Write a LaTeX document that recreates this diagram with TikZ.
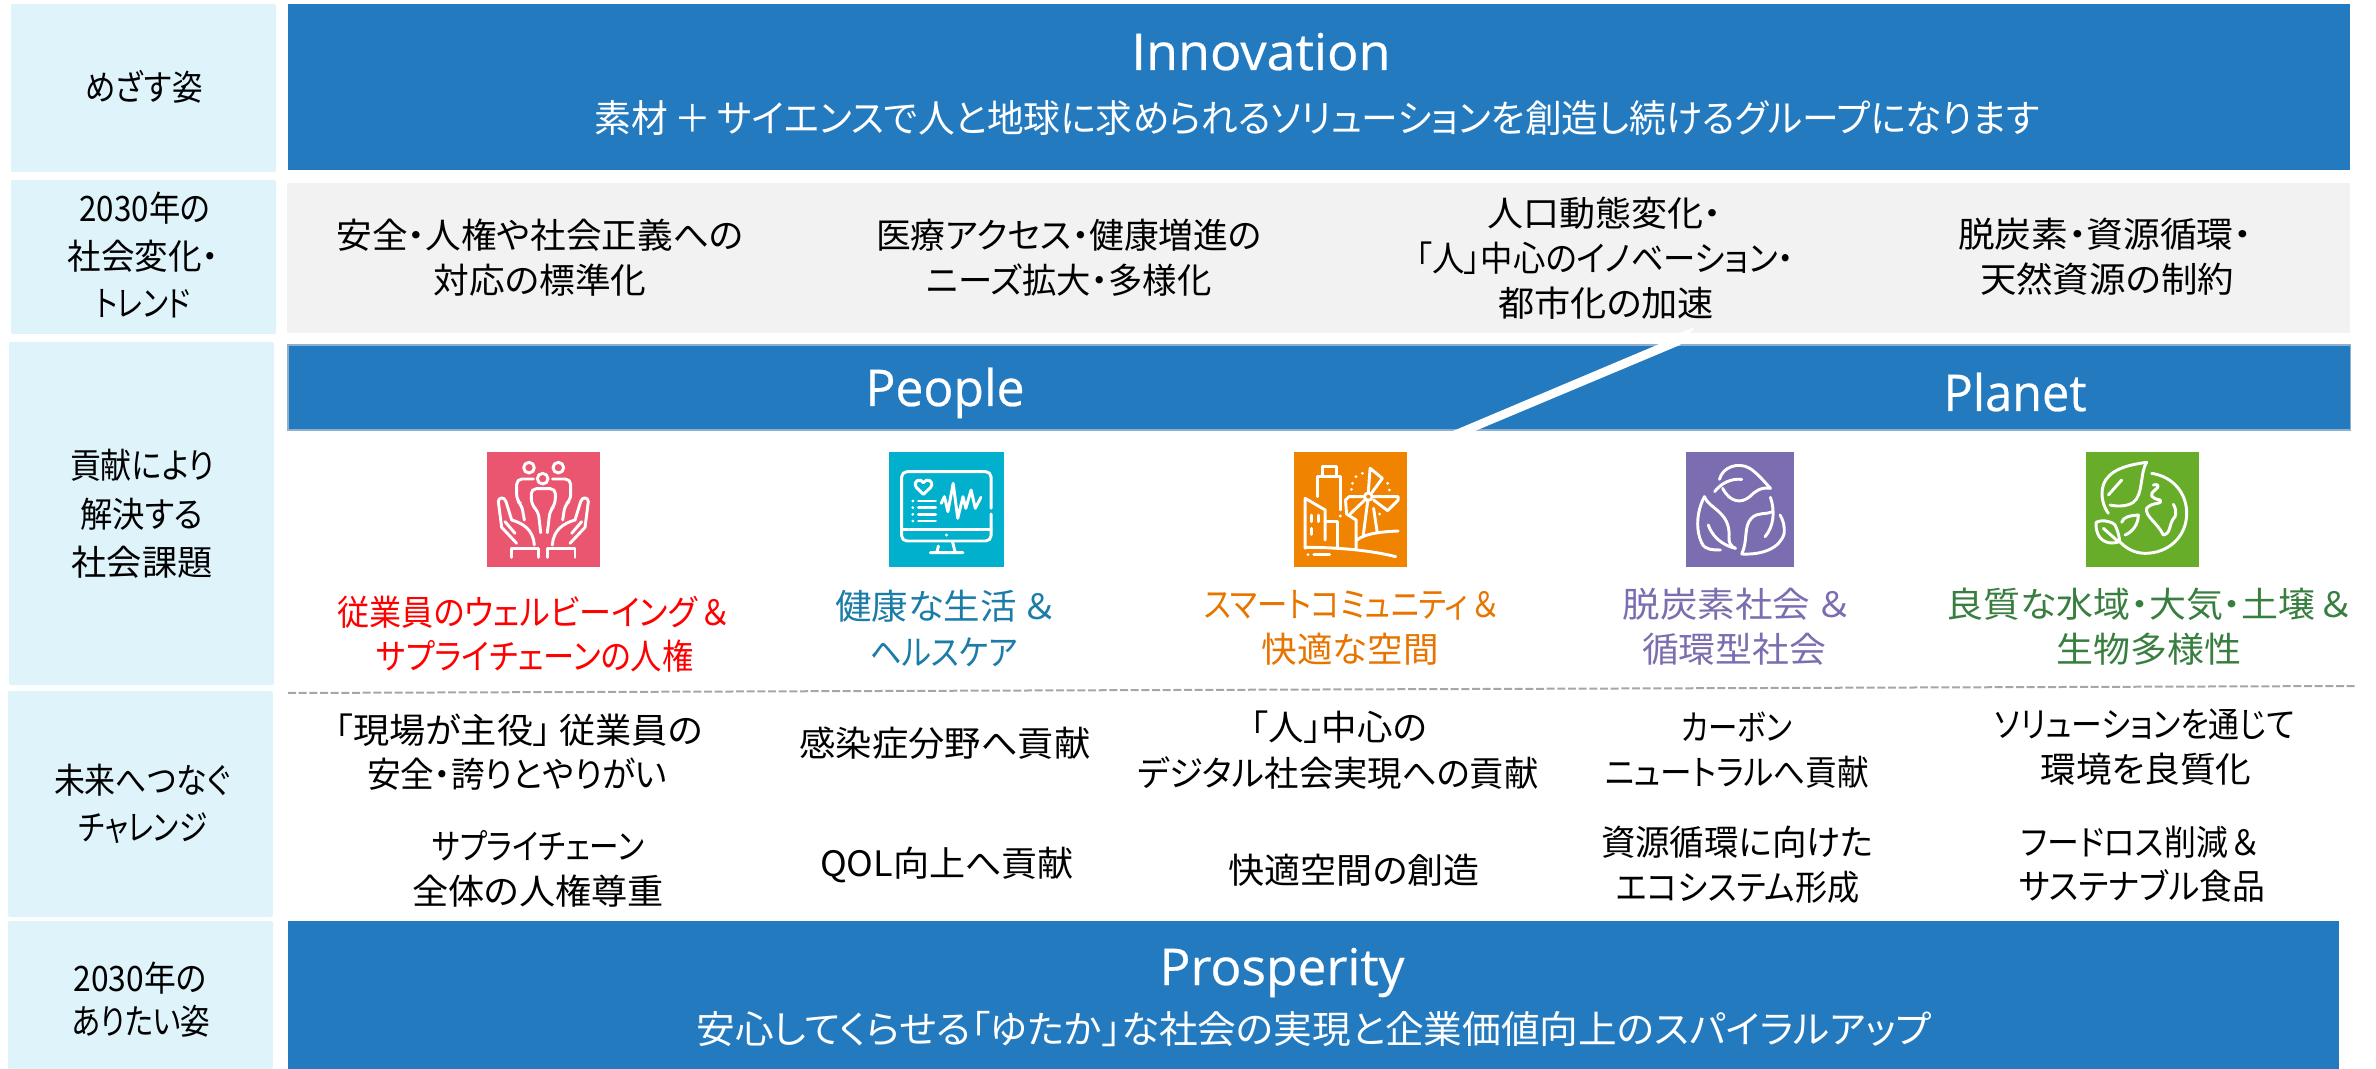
\documentclass[tikz,border=0pt]{standalone}
\usepackage{fontspec}
\usepackage{graphicx}
\setmainfont{Noto Sans CJK JP}[RawFeature={+palt}]
\newfontfamily\latinhead{Open Sans}[FakeBold=0.5]
\definecolor{bandblue}{RGB}{36,122,191}
\definecolor{sidepale}{RGB}{223,243,251}
\definecolor{trendgray}{RGB}{242,242,242}
\definecolor{iconred}{RGB}{234,86,112}
\definecolor{iconteal}{RGB}{0,176,204}
\definecolor{iconorange}{RGB}{240,131,0}
\definecolor{iconpurple}{RGB}{123,109,175}
\definecolor{icongreen}{RGB}{103,173,42}
\definecolor{txtteal}{RGB}{27,124,168}
\definecolor{txtorange}{RGB}{232,116,0}
\definecolor{txtpurple}{RGB}{124,109,176}
\definecolor{txtgreen}{RGB}{55,126,63}
\newsavebox\fitbox
\newcommand\fitw[2]{\sbox\fitbox{#2}\pgfmathsetmacro\fitr{#1*0.75/(\the\wd\fitbox)}\scalebox{\fitr}[1]{\usebox\fitbox}}
\newcommand\lbl[6][]{\node[txt,#1] (#2) at (#3,#4+13) {\fitw{#5}{#6}};}
\tikzset{
  txt/.style={inner sep=0pt,anchor=base,text=black,font=\fontsize{26.25}{30}\selectfont},
  whitetxt/.style={text=white},
  subtxt/.style={text=white,font=\fontsize{28.5}{32}\selectfont},
  headtxt/.style={text=white,font=\latinhead\fontsize{38}{42}\selectfont},
  side/.style={fill=sidepale,rounded corners=1.5pt},
  ln/.style={draw=white,line width=2.2pt,line cap=round,line join=round},
}
\begin{document}
\begin{tikzpicture}[x=0.75pt,y=-0.75pt]
\useasboundingbox (0,0) rectangle (2376,1069);
% side column
\fill[side] (11,4) rectangle (276,172);
\fill[side] (11,180) rectangle (276,334);
\fill[side] (9,342) rectangle (274,685);
\fill[side] (8,691) rectangle (273,917);
\fill[side] (8,921) rectangle (273,1069);
% bands
\fill[bandblue] (288,4) rectangle (2350,170);
\fill[trendgray] (287,183) rectangle (2350,333);
\fill[bandblue,draw=bandblue!70!gray!60!white,line width=0.8pt] (288,345) rectangle (2350,430);
\fill[bandblue] (288,921) rectangle (2339,1069);
% slash between People and Planet
\fill[white] (1453,431) -- (1475,431) -- (1680,345) -- (1695,327) -- (1680,333) -- (1657,345) -- cycle;
% dashed separator
\coordinate (dashL) at (288,693);
\coordinate (dashR) at (2356,686);
\draw[gray!70,line width=1.5pt,dash pattern=on 6pt off 2pt] (dashL) -- (dashR);

% headings
\node[txt,headtxt] (innov) at (1261,70) {\fitw{259}{Innovation}};
\lbl[subtxt]{innovsub}{1317}{120}{1445}{素材\kern5pt＋\kern5ptサイエンスで人と地球に求められるソリューションを創造し続けるグループになります}
\node[txt,headtxt] (people) at (945,406) {\fitw{159}{People}};
\node[txt,headtxt] (planet) at (2015,411) {\fitw{143}{Planet}};
\node[txt,headtxt] (prosp) at (1282,985) {\fitw{245}{Prosperity}};
\lbl[subtxt]{prospsub}{1314}{1030}{1235}{安心してくらせる「ゆたか」な社会の実現と企業価値向上のスパイラルアップ}

% side labels
\lbl{s1}{144}{88}{117}{めざす姿}
\lbl{s2a}{145}{209}{131}{2030年の}
\lbl{s2b}{143}{257}{151}{社会変化・}
\lbl{s2c}{143}{304}{95}{トレンド}
\lbl{s3a}{142}{466}{144}{貢献により}
\lbl{s3b}{142}{514}{123}{解決する}
\lbl{s3c}{142}{562}{141}{社会課題}
\lbl{s4a}{142}{780}{176}{未来へつなぐ}
\lbl{s4b}{143}{827}{128}{チャレンジ}
\lbl{s5a}{140}{978}{133}{2030年の}
\lbl{s5b}{141}{1021}{139}{ありたい姿}

% trends
\lbl{t1a}{540}{236}{407}{安全・人権や社会正義への}
\lbl{t1b}{540}{281}{213}{対応の標準化}
\lbl{t2a}{1069}{236}{386}{医療アクセス・健康増進の}
\lbl{t2b}{1069}{281}{285}{ニーズ拡大・多様化}
\lbl{t3a}{1604}{214}{234}{人口動態変化・}
\lbl{t3b}{1605}{259}{378}{「人」中心のイノベーション・}
\lbl{t3c}{1606}{304}{216}{都市化の加速}
\lbl{t4a}{2105}{235}{294}{脱炭素・資源循環・}
\lbl{t4b}{2107}{280}{254}{天然資源の制約}

% social issues
\lbl[text=red]{i1a}{533}{612}{391}{従業員のウェルビーイング\kern4pt＆}
\lbl[text=red]{i1b}{535}{656}{317}{サプライチェーンの人権}
\lbl[text=txtteal]{i2a}{945}{606}{220}{健康な生活 ＆}
\lbl[text=txtteal]{i2b}{944}{652}{148}{ヘルスケア}
\lbl[text=txtorange]{i3a}{1351}{604}{294}{スマートコミュニティ\kern4pt＆}
\lbl[text=txtorange]{i3b}{1350}{649}{177}{快適な空間}
\lbl[text=txtpurple]{i4a}{1736}{604}{227}{脱炭素社会 ＆}
\lbl[text=txtpurple]{i4b}{1734}{649}{184}{循環型社会}
\lbl[text=txtgreen]{i5a}{2149}{604}{405}{良質な水域・大気・土壌\kern4pt＆}
\lbl[text=txtgreen]{i5b}{2149}{649}{185}{生物多様性}

% challenges
\lbl{c1a}{519}{730}{368}{「現場が主役」\kern6pt従業員の}
\lbl{c1b}{517}{774}{300}{安全・誇りとやりがい}
\lbl{c1c}{538}{846}{212}{サプライチェーン}
\lbl{c1d}{538}{891}{252}{全体の人権尊重}
\lbl{c2a}{945}{743}{291}{感染症分野へ貢献}
\lbl{c2b}{947}{863}{254}{QOL向上へ貢献}
\lbl{c3a}{1339}{727}{176}{「人」中心の}
\lbl{c3b}{1338}{773}{401}{デジタル社会実現への貢献}
\lbl{c3c}{1354}{870}{251}{快適空間の創造}
\lbl{c4a}{1737}{727}{111}{カーボン}
\lbl{c4b}{1737}{772}{264}{ニュートラルへ貢献}
\lbl{c4c}{1737}{842}{272}{資源循環に向けた}
\lbl{c4d}{1738}{887}{243}{エコシステム形成}
\lbl{c5a}{2145}{724}{300}{ソリューションを通じて}
\lbl{c5b}{2146}{769}{211}{環境を良質化}
\lbl{c5c}{2140}{842}{238}{フードロス削減\kern4pt＆}
\lbl{c5d}{2142}{886}{246}{サステナブル食品}

% icon 1: people in hands
\begin{scope}[shift={(470,440)},x=0.25pt,y=-0.25pt]
\fill[iconred] (50,35) rectangle (390,382);
\draw[ln] (177,83) circle (16) (265,83) circle (16) (218,116) circle (16);
\draw[ln,rounded corners=4pt] (212,278) -- (205,215) -- (185,195) -- (183,146) -- (257,146) -- (255,195) -- (240,212) -- (232,278);
\draw[ln,rounded corners=4pt] (190,117) -- (140,117) -- (140,180) -- (155,195) -- (163,240);
\draw[ln,rounded corners=4pt] (248,117) -- (302,117) -- (302,180) -- (285,195) -- (278,240);
\draw[ln] (140,310) -- (95,262) -- (85,185) .. controls (85,172) and (103,168) .. (108,185) -- (125,240) .. controls (160,250) and (190,270) .. (193,315);
\draw[ln] (105,245) -- (135,280);
\draw[ln] (125,352) -- (125,325) -- (205,325) -- (205,352);
\draw[ln] (300,310) -- (345,262) -- (355,185) .. controls (355,172) and (337,168) .. (332,185) -- (315,240) .. controls (280,250) and (250,270) .. (247,315);
\draw[ln] (335,245) -- (305,280);
\draw[ln] (232,352) -- (232,325) -- (315,325) -- (315,352);
\end{scope}

% icon 2: health monitor
\begin{scope}[shift={(870,440)},x=0.2632pt,y=-0.25pt]
\fill[iconteal] (55,35) rectangle (382,382);
\draw[ln,rounded corners=4pt] (345,205) -- (345,95) -- (90,95) -- (90,303) -- (345,303) -- (345,222);
\draw[ln] (90,268) -- (345,268);
\fill[white] (218,285) circle (5);
\draw[ln] (195,318) -- (190,338) (235,305) -- (243,338) (172,338) -- (265,338);
\draw[ln] (152,163) -- (132,142) .. controls (120,122) and (145,112) .. (152,128) .. controls (160,112) and (185,122) .. (173,142) -- cycle;
\foreach \yy in {183,203,223,243} {
  \fill[white] (122,\yy) circle (4.5);
  \draw[ln] (138,\yy) -- (187,\yy);
}
\draw[ln] (203,190) -- (212,170) -- (222,215) -- (237,130) -- (250,235) -- (265,170) -- (273,205) -- (288,150) -- (300,205) -- (316,172);
\end{scope}

% icon 3: smart city
\begin{scope}[shift={(870,440)},x=0.2632pt,y=-0.25pt]
\fill[iconorange] (1207,35) rectangle (1530,382);
\draw[ln] (1290,105) -- (1290,80) -- (1328,80) -- (1328,105);
\draw[ln] (1275,170) -- (1275,110) -- (1340,110) -- (1340,210);
\fill[white] (1340,228) circle (5);
\draw[ln] (1240,325) -- (1240,175) -- (1297,210) -- (1297,300);
\draw[ln] (1297,245) -- (1333,245) -- (1333,322);
\draw[ln] (1258,225) -- (1258,245) (1278,225) -- (1278,245) (1258,265) -- (1258,283);
\draw[ln] (1240,322) .. controls (1340,322) and (1430,332) .. (1498,350);
\draw[ln] (1265,344) -- (1310,344);
\fill[white] (1248,344) circle (4.5);
\draw[ln] (1388,300) .. controls (1410,280) and (1460,275) .. (1505,273);
\draw[ln] (1385,325) -- (1385,240) -- (1358,222) -- (1355,180) -- (1365,170) -- (1408,170);
\draw[ln] (1368,222) -- (1410,180);
\draw[ln] (1420,155) -- (1425,85) -- (1460,115) -- (1430,158);
\draw[ln] (1432,170) -- (1505,170) -- (1505,180) -- (1475,212) -- (1435,180);
\draw[ln] (1420,170) circle (11);
\draw[ln] (1405,290) -- (1418,185) (1435,205) -- (1445,275);
\foreach \dx/\dy in {1452/222,1372/148,1375/130,1385/110,1403/100,1475/130,1480/150}
  \fill[white] (\dx,\dy) circle (4.5);
\end{scope}

% icon 4: recycling leaves
\begin{scope}[shift={(1670,440)},x=0.2392pt,y=-0.25pt]
\fill[iconpurple] (50,35) rectangle (388,382);
\draw[ln] (155,118) .. controls (165,80) and (215,65) .. (250,85) .. controls (275,100) and (300,130) .. (315,145) .. controls (285,140) and (265,155) .. (250,170) .. controls (225,190) and (190,190) .. (165,145);
\draw[ln] (140,155) .. controls (160,130) and (190,115) .. (225,118);
\draw[ln] (108,170) .. controls (90,200) and (75,260) .. (100,310) .. controls (110,330) and (135,330) .. (158,330);
\draw[ln] (108,170) .. controls (120,205) and (190,215) .. (185,290) .. controls (183,305) and (190,320) .. (205,325);
\draw[ln] (120,255) .. controls (130,285) and (160,315) .. (205,325);
\draw[ln] (225,342) .. controls (245,300) and (230,260) .. (255,235) .. controls (275,215) and (300,225) .. (322,215);
\draw[ln] (225,342) .. controls (290,345) and (345,325) .. (358,280) .. controls (360,260) and (355,240) .. (345,225);
\draw[ln] (315,172) .. controls (330,215) and (325,260) .. (298,290);
\end{scope}

% icon 5: earth and leaves
\begin{scope}[shift={(2080,445)},x=0.25pt,y=-0.25pt]
\fill[icongreen] (17,20) rectangle (357,367);
\draw[ln] (200,52) .. controls (140,60) and (85,75) .. (70,120) .. controls (60,150) and (70,185) .. (85,205);
\draw[ln] (200,52) .. controls (180,80) and (190,150) .. (160,172) .. controls (140,185) and (110,185) .. (90,180);
\draw[ln] (125,105) -- (85,150);
\draw[ln] (215,85) .. controls (280,95) and (320,145) .. (320,205) .. controls (320,275) and (265,325) .. (195,325) .. controls (165,325) and (135,310) .. (115,285);
\draw[ln] (48,232) .. controls (60,225) and (90,225) .. (105,240) .. controls (115,260) and (120,285) .. (118,290) .. controls (90,300) and (65,290) .. (55,270) .. controls (48,255) and (48,245) .. (48,232);
\draw[ln] (70,250) -- (115,290);
\draw[ln] (125,232) .. controls (130,215) and (150,212) .. (175,210) .. controls (175,235) and (160,260) .. (135,270);
\draw[ln] (220,120) .. controls (235,115) and (240,125) .. (225,135) .. controls (205,150) and (215,160) .. (240,165) .. controls (250,180) and (215,170) .. (200,190) .. controls (195,215) and (230,230) .. (250,270) .. controls (275,265) and (265,235) .. (285,215) .. controls (290,200) and (285,185) .. (280,178);
\end{scope}
\end{tikzpicture}
\end{document}
